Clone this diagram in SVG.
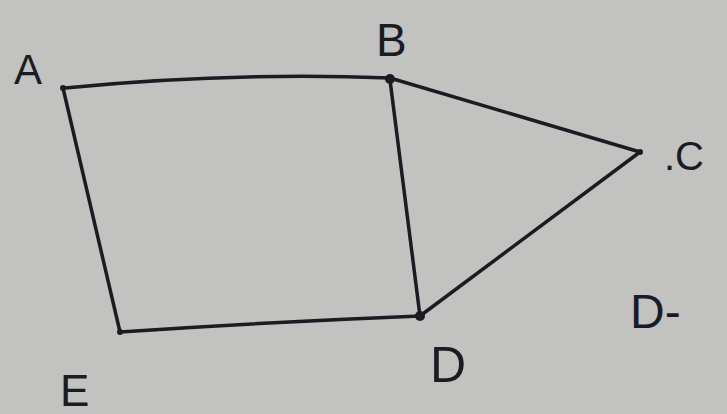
<svg xmlns="http://www.w3.org/2000/svg" width="727" height="414" viewBox="0 0 727 414">
<style>
.e{fill:none;stroke:#1a1c22;stroke-width:3.5;stroke-linecap:round}
.l{font-family:"Liberation Sans",Arial,sans-serif;fill:#1a1c22;font-weight:normal}
.v{fill:#1a1c22}
</style>
<rect width="727" height="414" fill="#c2c2c0"/>
<g id="connectors">
<path class="e" d="M65,88 Q230,72 390,78"/>
<path class="e" d="M390,78 L640,152"/>
<path class="e" d="M640,152 L420,316"/>
<path class="e" d="M390,80 L420,316"/>
<path class="e" d="M420,316 Q270,322 120,332"/>
<path class="e" d="M63,88 L120,332"/>
</g>
<g id="A"><circle class="v" cx="63" cy="88" r="3"/><text class="l" x="14" y="84" font-size="42">A</text></g>
<g id="B"><circle class="v" cx="390" cy="79" r="5"/><text class="l" x="376" y="56" font-size="46">B</text></g>
<g id="C"><circle class="v" cx="640" cy="152" r="3"/><text class="l" x="664" y="170" font-size="40">.C</text></g>
<g id="D"><circle class="v" cx="420" cy="316" r="5"/><text class="l" x="430" y="382" font-size="50">D</text></g>
<g id="E"><circle class="v" cx="120" cy="332" r="3"/><text class="l" x="60" y="406" font-size="44">E</text></g>
<g id="Dlabel"><text class="l" x="630" y="328" font-size="48">D-</text></g>
</svg>
